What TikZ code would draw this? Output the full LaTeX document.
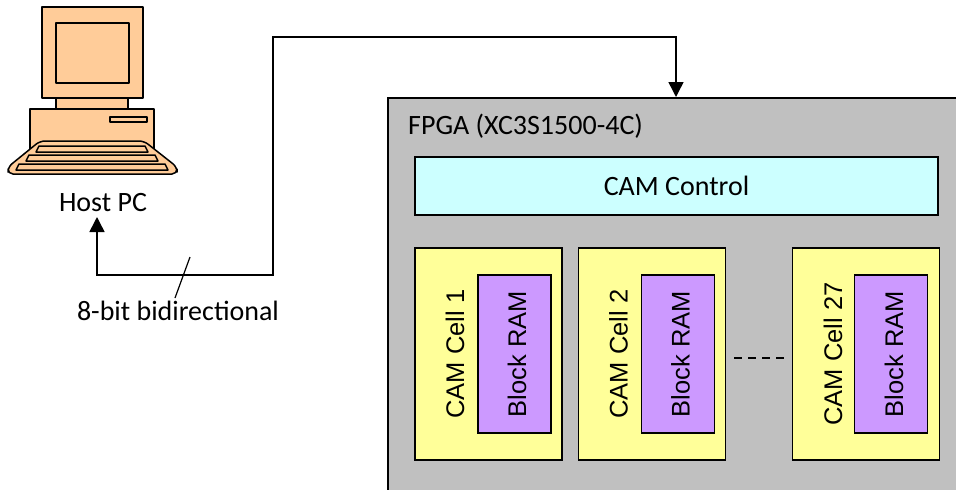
\documentclass[tikz,border=0pt]{standalone}
\usepackage{fontspec}
\setmainfont{Carlito}
\newfontfamily\cellfont{Liberation Sans}
\usetikzlibrary{arrows.meta,positioning}
\definecolor{pcpeach}{RGB}{255,204,153}
\definecolor{fpgagray}{RGB}{192,192,192}
\definecolor{ctrlcyan}{RGB}{204,255,255}
\definecolor{cellyellow}{RGB}{255,255,153}
\definecolor{rampurple}{RGB}{204,153,255}

\begin{document}
\begin{tikzpicture}[
    x=1pt, y=-1pt,
    pc/.style={draw, fill=pcpeach, line width=1.5pt, line join=round},
    fpga/.style={rectangle, draw, fill=fpgagray, line width=1.5pt, anchor=north west, minimum width=640pt, minimum height=440pt},
    ctrl/.style={rectangle, draw, fill=ctrlcyan, line width=1.5pt, minimum width=523pt, minimum height=58pt, font=\fontsize{28}{32}\selectfont},
    cell/.style={rectangle, draw, fill=cellyellow, line width=1.5pt, minimum width=147pt, minimum height=212pt},
    ram/.style={rectangle, draw, fill=rampurple, line width=1.5pt, minimum width=73pt, minimum height=158pt},
    vlabel/.style={rotate=90, font=\cellfont\fontsize{25.5}{30}\selectfont},
    txt/.style={font=\fontsize{28}{32}\selectfont, inner sep=0pt},
    bus/.style={{Triangle[length=15pt,width=15pt]}-{Triangle[length=15pt,width=15pt]}, line width=1.5pt}
]
\useasboundingbox (0,0) rectangle (956,490);
\clip (0,0) rectangle (956,490);

% Host PC
\draw[pc] (42,7) rectangle (143,98);
\draw[pc] (56,23) rectangle (129,83);
\draw[pc] (56,98) rectangle (128,109);
\draw[pc] (30,109) rectangle (154,150);
\draw[pc] (110,117) rectangle (147,122);
\draw[pc, rounded corners=5pt] (40,141) -- (144,141) -- (177,167) -- (177,174) -- (8,174) -- (8,167) -- cycle;
\draw[pc] (39,146) -- (145,146) -- (148,152) -- (36,152) -- cycle;
\draw[pc] (29,155) -- (155,155) -- (158,161) -- (26,161) -- cycle;
\draw[pc] (19,164) -- (165,164) -- (168,170) -- (16,170) -- cycle;
\node[txt] (hostpc) at (103,203) {Host PC};

% FPGA
\node[fpga] (fpga) at (387,97) {};
\node[txt, anchor=west] (fpganame) at (408,126) {FPGA (XC3S1500-4C)};
\node[ctrl] (control) at (676.5,186) {CAM Control};

% CAM cells
\node[cell] (cell1) at (488.5,354) {};
\node[ram] (ram1) at (514.5,354) {};
\node[vlabel] at (455,354) {CAM Cell 1};
\node[vlabel] at (517,354) {Block RAM};

\node[cell] (cell2) at (652,354) {};
\node[ram] (ram2) at (678,354) {};
\node[vlabel] at (618.5,354) {CAM Cell 2};
\node[vlabel] at (680.5,354) {Block RAM};

\node[cell] (cell27) at (866,354) {};
\node[ram] (ram27) at (891,354) {};
\node[vlabel] at (833,354) {CAM Cell 27};
\node[vlabel] at (894,354) {Block RAM};

\draw[line width=1.5pt, dash pattern=on 8pt off 6pt] ([xshift=8pt]cell2.east |- 0,358) -- ([xshift=-8pt]cell27.west |- 0,358);

% 8-bit link
\coordinate (pcport) at (97,217);
\coordinate (fpgaport) at (676,97);
\draw[bus] (pcport) |- (273,275) |- (676,37) -- (fpgaport);
\draw[line width=1.2pt] (190,257) -- (175,298);
\node[txt] (buslabel) at (178,311) {8-bit bidirectional};

\end{tikzpicture}
\end{document}
